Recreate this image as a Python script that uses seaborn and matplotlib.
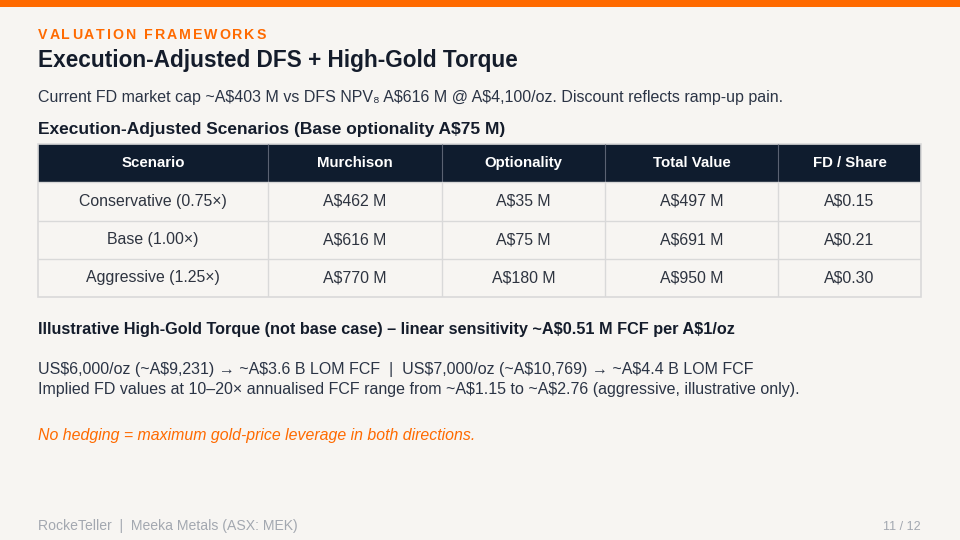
import numpy as np
import pandas as pd
import matplotlib
matplotlib.use("Agg")
import matplotlib.pyplot as plt
from matplotlib.colors import ListedColormap
from matplotlib.patches import Rectangle
import seaborn as sns

# ---------------- data ----------------
columns = ["Scenario", "Murchison", "Optionality", "Total Value", "FD / Share"]
scenarios = ["Conservative (0.75×)", "Base (1.00×)", "Aggressive (1.25×)"]
murchison_m = [462, 616, 770]
optionality_m = [35, 75, 180]
total_value_m = [497, 691, 950]
fd_share = [0.15, 0.21, 0.30]

kicker = "VALUATION FRAMEWORKS"
title = "Execution-Adjusted DFS + High-Gold Torque"
subtitle = "Current FD market cap ~A$403 M vs DFS NPV₈ A$616 M @ A$4,100/oz. Discount reflects ramp-up pain."
table_heading = "Execution-Adjusted Scenarios (Base optionality A$75 M)"
torque_heading = "Illustrative High-Gold Torque (not base case) – linear sensitivity ~A$0.51 M FCF per A$1/oz"
torque_line1 = "US$6,000/oz (~A$9,231) → ~A$3.6 B LOM FCF  |  US$7,000/oz (~A$10,769) → ~A$4.4 B LOM FCF"
torque_line2 = "Implied FD values at 10–20× annualised FCF range from ~A$1.15 to ~A$2.76 (aggressive, illustrative only)."
note = "No hedging = maximum gold-price leverage in both directions."
footer_left = "RockeTeller  |  Meeka Metals (ASX: MEK)"
footer_right = "11 / 12"

# ---------------- style ----------------
sns.set_theme(style="white")
plt.rcParams["font.family"] = ["Liberation Sans", "DejaVu Sans"]

BG = "#F7F5F2"
ORANGE = "#FF6A00"
NAVY = "#0F1C2E"
TEXT = "#2B3445"
GRID = "#D9D9D9"

W, H = 960, 540
fig = plt.figure(figsize=(9.6, 5.4), dpi=100, facecolor=BG)
renderer = fig.canvas.get_renderer()

fig.patches.append(Rectangle((0, 1 - 7 / H), 1, 7 / H, transform=fig.transFigure,
                             facecolor=ORANGE, edgecolor="none"))


def put(x, y, s, size=11, width=None, **kw):
    t = fig.text(x / W, 1 - y / H, s, fontsize=size, va="baseline", parse_math=False, **kw)
    if width:
        w = t.get_window_extent(renderer).width
        t.set_fontsize(size * width / w)
    return t


def spaced(x, y, s, size, spacing, **kw):
    cx = x
    for ch in s:
        if ch == " ":
            cx += size * 0.30 * 100 / 72 + spacing
            continue
        t = fig.text(cx / W, 1 - y / H, ch, fontsize=size, va="baseline", parse_math=False, **kw)
        cx += t.get_window_extent(renderer).width + spacing


spaced(38, 39, kicker, 10.2, 1.9, color=ORANGE, fontweight="bold")
put(38, 67, title, 16, width=481, color="#141C2B", fontweight="bold")
put(38, 102, subtitle, 11, width=742, color=TEXT)
put(38, 134, table_heading, 10.5, width=468, color="#141C2B", fontweight="bold")
put(38, 334, torque_heading, 10.5, width=703, color="#141C2B", fontweight="bold")
put(38, 374, torque_line1, 11, width=715, color=TEXT)
put(38, 394, torque_line2, 11, width=758, color=TEXT)
put(38, 440, note, 11, width=438, color=ORANGE, fontstyle="italic")
put(38, 530, footer_left, 9, width=260, color="#A3A8B0")
put(921, 530, footer_right, 9, color="#A3A8B0", ha="right")

# ---------------- table (seaborn heatmap) ----------------
col_px = [230, 174, 163, 173, 143]
bounds = np.concatenate([[0], np.cumsum(col_px)])
total_w = int(bounds[-1])
n_rows = len(scenarios) + 1

role = np.zeros((n_rows, total_w))
role[0, :] = 1
df = pd.DataFrame(role)

ax = fig.add_axes([38 / W, 1 - 297 / H, total_w / W, 153 / H])
sns.heatmap(df, ax=ax, cmap=ListedColormap([BG, NAVY]), vmin=0, vmax=1,
            cbar=False, xticklabels=False, yticklabels=False, rasterized=True)
ax.set_xlim(0, total_w)
ax.set_ylim(n_rows, 0)

ax.vlines(bounds[1:-1], 1, n_rows, color=GRID, lw=1)
ax.vlines(bounds[1:-1], 0, 1, color="#5A6272", lw=0.8)
ax.hlines(range(1, n_rows), 0, total_w, color=GRID, lw=1)
ax.add_patch(Rectangle((0, 0), total_w, n_rows, fill=False, ec=GRID, lw=1.2, clip_on=False))

rows = [
    scenarios,
    [f"A${v} M" for v in murchison_m],
    [f"A${v} M" for v in optionality_m],
    [f"A${v} M" for v in total_value_m],
    [f"A${v:.2f}" for v in fd_share],
]
centers = (bounds[:-1] + bounds[1:]) / 2
for j, name in enumerate(columns):
    ax.text(centers[j], 0.5, name, ha="center", va="center", color="white",
            fontsize=10.8, fontweight="bold", parse_math=False)
    for i, val in enumerate(rows[j]):
        ax.text(centers[j], i + 1.5, val, ha="center", va="center", color="#2E3440",
                fontsize=11.4, parse_math=False)

fig.savefig("out.png", dpi=100, facecolor=BG)
